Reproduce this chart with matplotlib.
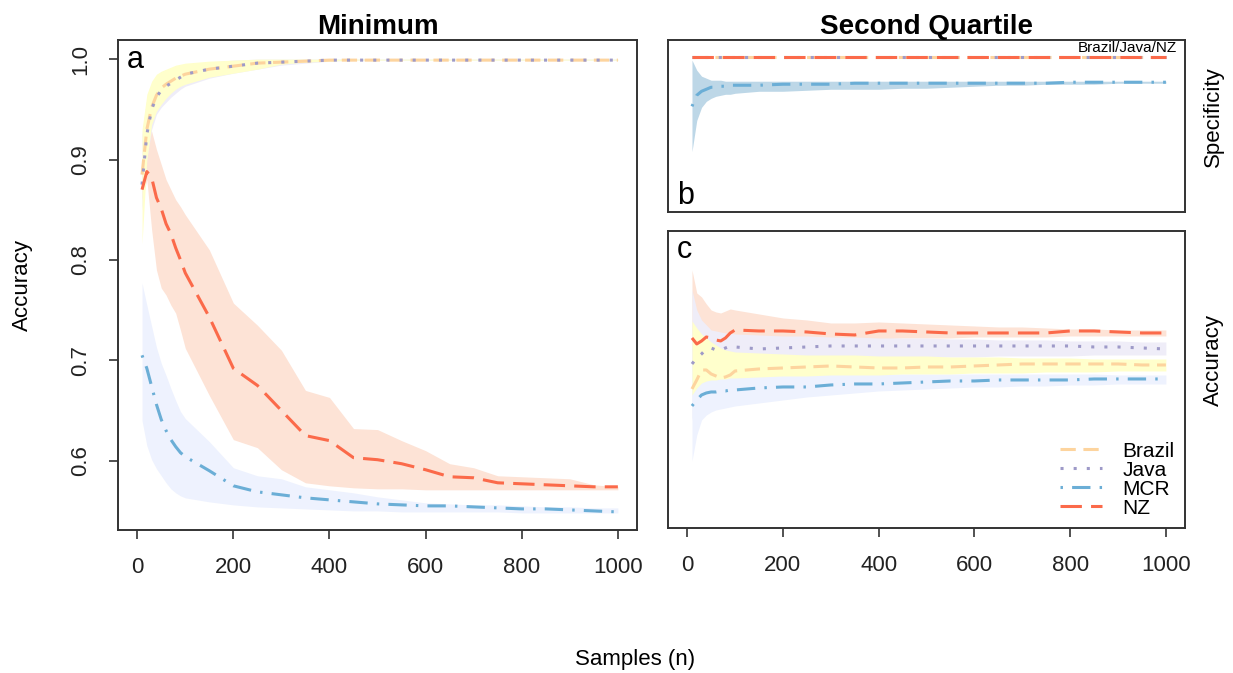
import numpy as np
import matplotlib.pyplot as plt

plt.rcParams['font.family'] = ['Liberation Sans', 'DejaVu Sans']

# sample sizes
n = [10, 20, 30, 40, 50, 60, 70, 80, 90, 100,
     150, 200, 250, 300, 350, 400, 450, 500, 550, 600,
     650, 700, 750, 800, 850, 900, 950, 1000]

# ---- panel a: Minimum, accuracy ----
brazil_a = [0.885, 0.930, 0.952, 0.964, 0.971, 0.975, 0.978, 0.981, 0.983, 0.985,
            0.990, 0.993, 0.996, 0.997, 0.998, 0.999, 0.999, 0.999, 0.999, 0.999,
            0.999, 0.999, 0.999, 0.999, 0.999, 0.999, 0.999, 0.999]
brazil_a_hi = [0.930, 0.965, 0.978, 0.985, 0.988, 0.990, 0.992, 0.994, 0.995, 0.996,
               0.998, 0.999, 1.0, 1.0, 1.0, 1.0, 1.0, 1.0, 1.0, 1.0,
               1.0, 1.0, 1.0, 1.0, 1.0, 1.0, 1.0, 1.0]
brazil_a_lo = [0.816, 0.900, 0.935, 0.948, 0.955, 0.961, 0.966, 0.970, 0.973, 0.975,
               0.982, 0.986, 0.990, 0.995, 0.997, 0.998, 0.999, 0.999, 0.999, 0.999,
               0.999, 0.999, 0.999, 0.999, 0.999, 0.999, 0.999, 0.999]
java_a = [0.875, 0.925, 0.950, 0.962, 0.969, 0.973, 0.976, 0.979, 0.982, 0.985,
          0.990, 0.993, 0.996, 0.997, 0.998, 0.999, 0.999, 0.999, 0.999, 0.999,
          0.999, 0.999, 0.999, 0.999, 0.999, 0.999, 0.999, 0.999]
java_a_hi = [0.925, 0.960, 0.975, 0.983, 0.987, 0.989, 0.991, 0.993, 0.994, 0.995,
             0.997, 0.999, 1.0, 1.0, 1.0, 1.0, 1.0, 1.0, 1.0, 1.0,
             1.0, 1.0, 1.0, 1.0, 1.0, 1.0, 1.0, 1.0]
java_a_lo = [0.850, 0.900, 0.930, 0.945, 0.952, 0.957, 0.962, 0.966, 0.970, 0.973,
             0.981, 0.986, 0.990, 0.994, 0.996, 0.998, 0.999, 0.999, 0.999, 0.999,
             0.999, 0.999, 0.999, 0.999, 0.999, 0.999, 0.999, 0.999]
mcr_a = [0.705, 0.692, 0.674, 0.656, 0.641, 0.630, 0.621, 0.614, 0.608, 0.604,
         0.590, 0.575, 0.569, 0.566, 0.563, 0.561, 0.559, 0.557, 0.556, 0.555,
         0.555, 0.554, 0.553, 0.552, 0.552, 0.551, 0.550, 0.549]
mcr_a_hi = [0.777, 0.755, 0.734, 0.713, 0.697, 0.685, 0.672, 0.660, 0.649, 0.642,
            0.619, 0.593, 0.585, 0.582, 0.574, 0.571, 0.568, 0.564, 0.561, 0.558,
            0.557, 0.556, 0.556, 0.555, 0.554, 0.554, 0.553, 0.553]
mcr_a_lo = [0.640, 0.615, 0.601, 0.592, 0.585, 0.578, 0.572, 0.568, 0.565, 0.563,
            0.559, 0.556, 0.554, 0.553, 0.552, 0.551, 0.550, 0.550, 0.549, 0.549,
            0.549, 0.549, 0.549, 0.548, 0.548, 0.548, 0.548, 0.548]
nz_a = [0.870, 0.888, 0.882, 0.862, 0.851, 0.836, 0.826, 0.812, 0.800, 0.787,
        0.743, 0.692, 0.675, 0.650, 0.625, 0.620, 0.603, 0.601, 0.597, 0.591,
        0.584, 0.583, 0.578, 0.577, 0.576, 0.575, 0.574, 0.574]
nz_a_hi = [0.900, 0.930, 0.928, 0.910, 0.895, 0.880, 0.870, 0.860, 0.853, 0.845,
           0.810, 0.757, 0.735, 0.710, 0.670, 0.663, 0.632, 0.631, 0.620, 0.610,
           0.597, 0.593, 0.585, 0.584, 0.583, 0.582, 0.576, 0.574]
nz_a_lo = [0.860, 0.880, 0.830, 0.790, 0.772, 0.765, 0.755, 0.747, 0.730, 0.712,
           0.665, 0.621, 0.613, 0.591, 0.578, 0.575, 0.573, 0.572, 0.572, 0.571,
           0.571, 0.571, 0.571, 0.571, 0.571, 0.571, 0.571, 0.571]

# ---- panel b: Second quartile, specificity ----
spec_top = [1.0] * 28   # Brazil / Java / NZ all at 1
mcr_b = [0.951, 0.962, 0.966, 0.968, 0.970, 0.970, 0.971, 0.971, 0.972, 0.972,
         0.972, 0.973, 0.973, 0.973, 0.974, 0.974, 0.974, 0.974, 0.974, 0.974,
         0.974, 0.974, 0.974, 0.975, 0.975, 0.975, 0.975, 0.975]
mcr_b_hi = [0.997, 0.987, 0.981, 0.979, 0.977, 0.977, 0.977, 0.976, 0.976, 0.976,
            0.976, 0.976, 0.976, 0.976, 0.976, 0.976, 0.976, 0.976, 0.976, 0.976,
            0.976, 0.976, 0.976, 0.976, 0.976, 0.976, 0.976, 0.976]
mcr_b_lo = [0.906, 0.937, 0.950, 0.956, 0.959, 0.961, 0.962, 0.963, 0.963, 0.964,
            0.966, 0.966, 0.967, 0.968, 0.968, 0.968, 0.969, 0.969, 0.970, 0.971,
            0.972, 0.972, 0.973, 0.973, 0.973, 0.974, 0.974, 0.974]

# ---- panel c: Second quartile, accuracy ----
brazil_c = [0.671, 0.680, 0.690, 0.690, 0.686, 0.684, 0.682, 0.683, 0.685, 0.689,
            0.691, 0.692, 0.693, 0.694, 0.693, 0.692, 0.692, 0.693, 0.693, 0.694,
            0.695, 0.696, 0.696, 0.696, 0.696, 0.696, 0.695, 0.695]
brazil_c_hi = [0.739, 0.732, 0.726, 0.722, 0.718, 0.715, 0.712, 0.710, 0.709, 0.708,
               0.707, 0.706, 0.705, 0.705, 0.705, 0.704, 0.704, 0.704, 0.703, 0.703,
               0.703, 0.702, 0.702, 0.702, 0.701, 0.701, 0.701, 0.701]
brazil_c_lo = [0.665, 0.672, 0.677, 0.679, 0.680, 0.680, 0.681, 0.681, 0.682, 0.682,
               0.683, 0.684, 0.684, 0.685, 0.685, 0.685, 0.686, 0.686, 0.686, 0.687,
               0.687, 0.687, 0.688, 0.688, 0.688, 0.689, 0.689, 0.689]
java_c = [0.696, 0.702, 0.706, 0.711, 0.712, 0.710, 0.710, 0.712, 0.714, 0.713,
          0.711, 0.712, 0.713, 0.714, 0.714, 0.714, 0.714, 0.714, 0.714, 0.714,
          0.714, 0.714, 0.714, 0.714, 0.713, 0.713, 0.712, 0.711]
java_c_hi = [0.770, 0.750, 0.740, 0.735, 0.730, 0.729, 0.728, 0.727, 0.727, 0.726,
             0.725, 0.724, 0.724, 0.723, 0.723, 0.722, 0.722, 0.722, 0.721, 0.721,
             0.720, 0.720, 0.720, 0.719, 0.719, 0.719, 0.718, 0.718]
java_c_lo = [0.640, 0.665, 0.680, 0.690, 0.693, 0.694, 0.695, 0.696, 0.696, 0.697,
             0.699, 0.700, 0.701, 0.701, 0.702, 0.702, 0.702, 0.703, 0.703, 0.703,
             0.704, 0.704, 0.704, 0.704, 0.705, 0.705, 0.705, 0.705]
mcr_c = [0.654, 0.660, 0.665, 0.667, 0.668, 0.668, 0.669, 0.669, 0.670, 0.670,
         0.672, 0.673, 0.673, 0.675, 0.676, 0.676, 0.677, 0.678, 0.679, 0.679,
         0.680, 0.680, 0.680, 0.680, 0.681, 0.681, 0.681, 0.681]
mcr_c_hi = [0.720, 0.705, 0.697, 0.692, 0.689, 0.688, 0.687, 0.686, 0.686, 0.686,
            0.686, 0.686, 0.686, 0.686, 0.686, 0.686, 0.686, 0.686, 0.686, 0.686,
            0.686, 0.686, 0.686, 0.686, 0.686, 0.685, 0.685, 0.685]
mcr_c_lo = [0.599, 0.625, 0.640, 0.645, 0.648, 0.650, 0.651, 0.652, 0.653, 0.654,
            0.657, 0.660, 0.663, 0.665, 0.667, 0.669, 0.670, 0.671, 0.672, 0.673,
            0.673, 0.674, 0.674, 0.675, 0.675, 0.676, 0.676, 0.676]
nz_c = [0.722, 0.716, 0.719, 0.723, 0.722, 0.720, 0.719, 0.722, 0.727, 0.730,
        0.729, 0.729, 0.728, 0.726, 0.725, 0.729, 0.729, 0.728, 0.727, 0.727,
        0.727, 0.727, 0.727, 0.729, 0.729, 0.728, 0.727, 0.727]
nz_c_hi = [0.790, 0.767, 0.763, 0.756, 0.750, 0.748, 0.747, 0.749, 0.751, 0.750,
           0.746, 0.742, 0.740, 0.737, 0.737, 0.738, 0.737, 0.736, 0.735, 0.734,
           0.733, 0.733, 0.732, 0.731, 0.731, 0.730, 0.730, 0.730]
nz_c_lo = [0.695, 0.700, 0.705, 0.708, 0.710, 0.711, 0.712, 0.713, 0.713, 0.714,
           0.717, 0.719, 0.720, 0.720, 0.721, 0.721, 0.722, 0.722, 0.722, 0.723,
           0.723, 0.723, 0.723, 0.724, 0.724, 0.724, 0.724, 0.724]

# styles
col = {'Brazil': '#FDD49E', 'Java': '#9E9AC8', 'MCR': '#6BAED6', 'NZ': '#FB6A4A'}
fill = {'Brazil': '#FFFFCC', 'Java': '#EFEDF8', 'MCR': '#EEF2FE', 'NZ': '#FDE3D6'}
dash = {'Brazil': (0, (5, 2.5)), 'Java': (0, (1, 3.3)), 'MCR': (0, (0.8, 3, 6, 3)),
        'NZ': (0, (7, 3))}
LW = 2.2
BOX = '#333333'
FS = 16

fig = plt.figure(figsize=(12.33, 6.73), dpi=100)
ax_a = fig.add_axes([0.0957, 0.2125, 0.421, 0.728])
ax_b = fig.add_axes([0.5418, 0.685, 0.4193, 0.2556])
ax_c = fig.add_axes([0.5418, 0.2155, 0.4193, 0.4413])


def style_box(ax):
    for s in ax.spines.values():
        s.set_color(BOX)
        s.set_linewidth(1.4)
    ax.set_xlim(-40, 1040)
    ax.tick_params(direction='out', length=6.5, width=1.2, color=BOX, pad=13,
                   labelsize=FS, labelcolor='#222222')


# panel a
ax_a.fill_between(n, nz_a_lo, nz_a_hi, color=fill['NZ'], lw=0)
ax_a.fill_between(n, mcr_a_lo, mcr_a_hi, color=fill['MCR'], lw=0)
ax_a.fill_between(n, java_a_lo, java_a_hi, color=fill['Java'], lw=0)
ax_a.fill_between(n, brazil_a_lo, brazil_a_hi, color=fill['Brazil'], lw=0)
ax_a.plot(n, brazil_a, color=col['Brazil'], ls=dash['Brazil'], lw=LW)
ax_a.plot(n, java_a, color=col['Java'], ls=dash['Java'], lw=LW)
ax_a.plot(n, mcr_a, color=col['MCR'], ls=dash['MCR'], lw=LW)
ax_a.plot(n, nz_a, color=col['NZ'], ls=dash['NZ'], lw=LW)
style_box(ax_a)
ax_a.set_ylim(0.531, 1.019)
ax_a.set_yticks([0.6, 0.7, 0.8, 0.9, 1.0])
ax_a.set_yticklabels(['0.6', '0.7', '0.8', '0.9', '1.0'], rotation=90, va='center')
ax_a.set_xticks([0, 200, 400, 600, 800, 1000])
ax_a.text(0.017, 0.943, 'a', transform=ax_a.transAxes, fontsize=22, va='baseline', ha='left')

# panel b
ax_b.fill_between(n, mcr_b_lo, mcr_b_hi, color='#BDD7E7', lw=0)
ax_b.plot(n, mcr_b, color=col['MCR'], ls=dash['MCR'], lw=LW)
ax_b.plot(n, spec_top, color=col['Brazil'], ls=dash['Brazil'], lw=LW)
ax_b.plot(n, spec_top, color=col['Java'], ls=dash['Java'], lw=LW)
ax_b.plot(n, spec_top, color=col['NZ'], ls=dash['NZ'], lw=LW)
style_box(ax_b)
ax_b.set_ylim(0.846, 1.017)
ax_b.set_xticks([])
ax_b.set_yticks([])
ax_b.text(0.985, 0.995, 'Brazil/Java/NZ', transform=ax_b.transAxes, fontsize=11,
          va='top', ha='right')
ax_b.text(0.017, 0.047, 'b', transform=ax_b.transAxes, fontsize=22, va='baseline', ha='left')

# panel c
ax_c.fill_between(n, nz_c_lo, nz_c_hi, color=fill['NZ'], lw=0)
ax_c.fill_between(n, java_c_lo, java_c_hi, color=fill['Java'], lw=0)
ax_c.fill_between(n, mcr_c_lo, mcr_c_hi, color=fill['MCR'], lw=0)
ax_c.fill_between(n, brazil_c_lo, brazil_c_hi, color=fill['Brazil'], lw=0)
for name, vals in [('Brazil', brazil_c), ('Java', java_c), ('MCR', mcr_c), ('NZ', nz_c)]:
    ax_c.plot(n, vals, color=col[name], ls=dash[name], lw=LW, label=name)
style_box(ax_c)
ax_c.set_ylim(0.532, 0.829)
ax_c.set_yticks([])
ax_c.set_xticks([0, 200, 400, 600, 800, 1000])
ax_c.text(0.017, 0.909, 'c', transform=ax_c.transAxes, fontsize=22, va='baseline', ha='left')
ax_c.legend(loc='lower right', frameon=False, fontsize=15, handlelength=2.0,
            handletextpad=1.0, labelspacing=0.0, borderaxespad=0.1, borderpad=0.4)

# titles and axis labels placed on the figure
fig.text(378 / 1233, 1 - 27 / 673, 'Minimum', ha='center', va='center',
         fontsize=20, fontweight='bold')
fig.text(926 / 1233, 1 - 27 / 673, 'Second Quartile', ha='center', va='center',
         fontsize=20, fontweight='bold')
fig.text(22 / 1233, 1 - 285 / 673, 'Accuracy', rotation=90, ha='center', va='center',
         fontsize=FS)
fig.text(1213 / 1233, 1 - 117 / 673, 'Specificity', rotation=90, ha='center', va='center',
         fontsize=FS)
fig.text(1213 / 1233, 1 - 360 / 673, 'Accuracy', rotation=90, ha='center', va='center',
         fontsize=FS)
fig.text(635 / 1233, 1 - 660 / 673, 'Samples (n)', ha='center', va='center', fontsize=FS)

fig.savefig('out.png', dpi=100, facecolor='white')
